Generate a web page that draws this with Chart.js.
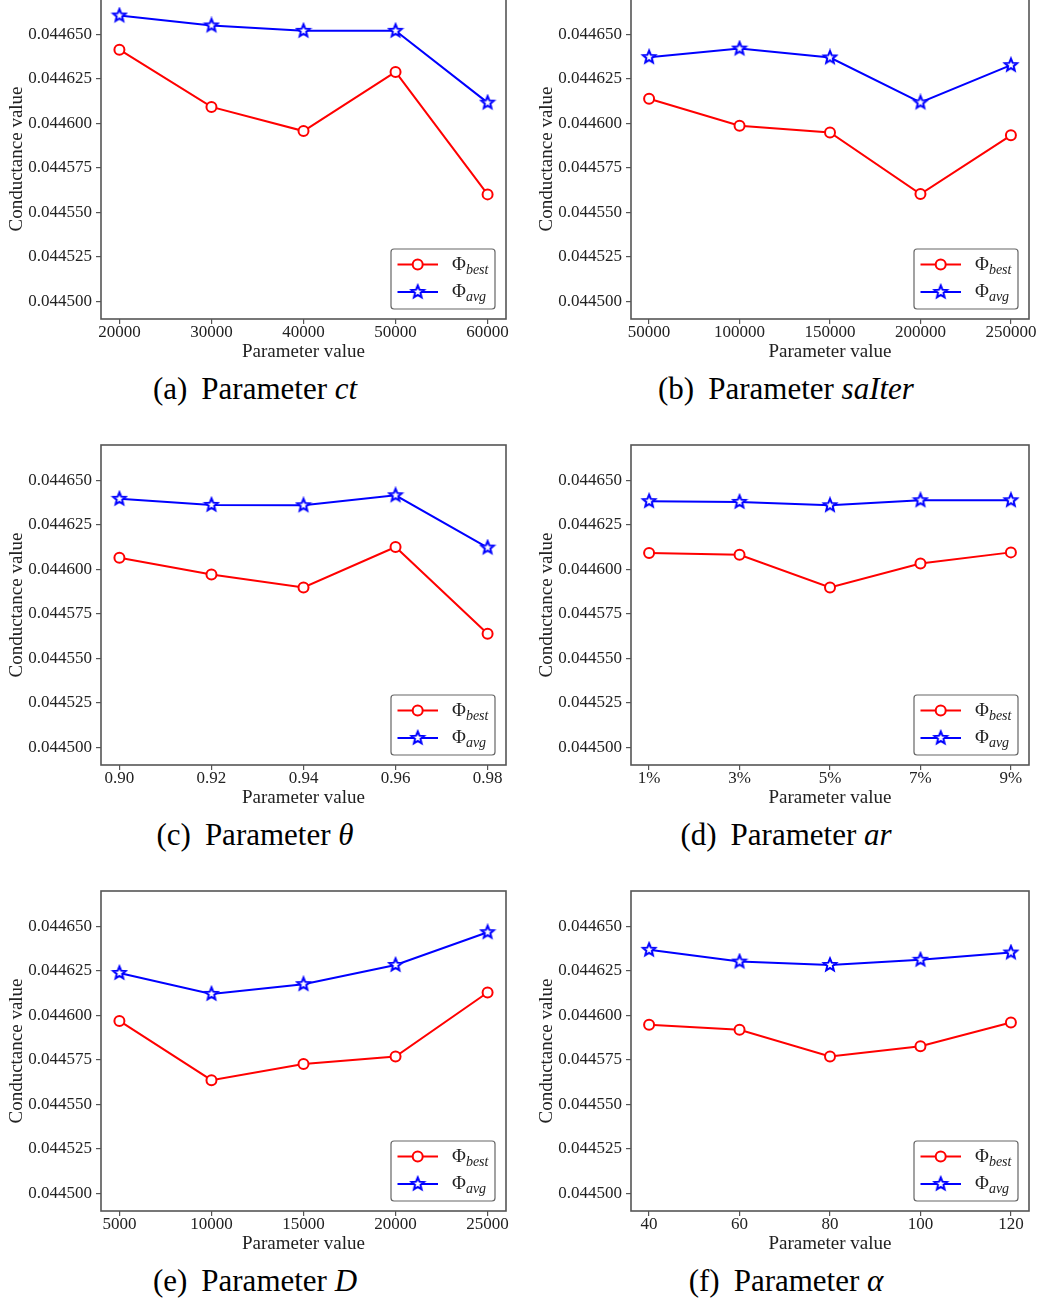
<!DOCTYPE html>
<html>
<head>
<meta charset="utf-8">
<script src="https://cdn.jsdelivr.net/npm/chart.js@4.4.1/dist/chart.umd.min.js"></script>
<style>
  body { margin: 0; background: #fff; width: 1050px; height: 1304px; position: relative; overflow: hidden; font-family: "Liberation Serif", serif; }
  canvas { position: absolute; }
  .cap { position: absolute; width: 400px; text-align: center; font-size: 31px; line-height: 30px; color: #000; white-space: nowrap; }
  .cap .lbl { margin-right: 14px; }
</style>
</head>
<body>
<script>
// shared y axis
const yTicks = [0.0445, 0.044525, 0.04455, 0.044575, 0.0446, 0.044625, 0.04465];
const yMin = 0.04449;
const yMax = 0.04467;

// (a) ct
const ctValues = [20000, 30000, 40000, 50000, 60000];
const ctLabels = ['20000', '30000', '40000', '50000', '60000'];
const ctBest = [0.0446415, 0.0446093, 0.0445957, 0.0446290, 0.0445601];
const ctAvg = [0.0446607, 0.0446551, 0.0446521, 0.0446521, 0.0446117];

// (b) saIter
const saIterValues = [50000, 100000, 150000, 200000, 250000];
const saIterLabels = ['50000', '100000', '150000', '200000', '250000'];
const saIterBest = [0.0446139, 0.0445987, 0.0445949, 0.0445603, 0.0445933];
const saIterAvg = [0.0446373, 0.0446421, 0.0446371, 0.0446118, 0.0446328];

// (c) theta
const thetaValues = [0.90, 0.92, 0.94, 0.96, 0.98];
const thetaLabels = ['0.90', '0.92', '0.94', '0.96', '0.98'];
const thetaBest = [0.0446066, 0.0445971, 0.0445899, 0.0446126, 0.0445638];
const thetaAvg = [0.0446397, 0.0446363, 0.0446361, 0.0446417, 0.0446123];

// (d) ar
const arValues = [1, 3, 5, 7, 9];
const arLabels = ['1%', '3%', '5%', '7%', '9%'];
const arBest = [0.0446093, 0.0446083, 0.0445899, 0.0446033, 0.0446096];
const arAvg = [0.0446384, 0.0446380, 0.0446361, 0.0446389, 0.0446389];

// (e) D
const dValues = [5000, 10000, 15000, 20000, 25000];
const dLabels = ['5000', '10000', '15000', '20000', '25000'];
const dBest = [0.0445969, 0.0445636, 0.0445727, 0.0445769, 0.0446129];
const dAvg = [0.0446239, 0.0446121, 0.0446176, 0.0446284, 0.0446468];

// (f) alpha
const alphaValues = [40, 60, 80, 100, 120];
const alphaLabels = ['40', '60', '80', '100', '120'];
const alphaBest = [0.0445947, 0.0445919, 0.0445769, 0.0445827, 0.0445960];
const alphaAvg = [0.0446369, 0.0446303, 0.0446284, 0.0446313, 0.0446354];

const captions = [
    ['(a)', 'ct'], ['(b)', 'saIter'], ['(c)', 'θ'],
    ['(d)', 'ar'], ['(e)', 'D'], ['(f)', 'α'],
];

const panels = [
    { x: ctValues, labels: ctLabels, best: ctBest, avg: ctAvg },
    { x: saIterValues, labels: saIterLabels, best: saIterBest, avg: saIterAvg },
    { x: thetaValues, labels: thetaLabels, best: thetaBest, avg: thetaAvg },
    { x: arValues, labels: arLabels, best: arBest, avg: arAvg },
    { x: dValues, labels: dLabels, best: dBest, avg: dAvg },
    { x: alphaValues, labels: alphaLabels, best: alphaBest, avg: alphaAvg },
];

Chart.defaults.font.family = '"Liberation Serif", serif';
Chart.defaults.color = '#222';

const FRAME = '#555';
const RED = '#ff0000';
const BLUE = '#0000ff';

// hollow five point star marker
function makeStar() {
    const c = document.createElement('canvas');
    c.width = 18;
    c.height = 18;
    const g = c.getContext('2d');
    g.beginPath();
    for (let i = 0; i < 10; i++) {
        const r = i % 2 === 0 ? 6.5 : 2.9;
        const a = -Math.PI / 2 + i * Math.PI / 5;
        const px = 9 + r * Math.cos(a);
        const py = 9 + r * Math.sin(a);
        if (i === 0) g.moveTo(px, py); else g.lineTo(px, py);
    }
    g.closePath();
    g.fillStyle = '#fff';
    g.fill();
    g.lineWidth = 2;
    g.lineJoin = 'miter';
    g.strokeStyle = BLUE;
    g.stroke();
    return c;
}
const starImg = makeStar();

const framePlugin = {
    id: 'frame',
    afterDraw(chart) {
        const { ctx, chartArea: a } = chart;
        ctx.save();
        ctx.strokeStyle = FRAME;
        ctx.lineWidth = 1.6;
        ctx.strokeRect(a.left, a.top, a.right - a.left, a.bottom - a.top);
        ctx.restore();
    }
};

const legendPlugin = {
    id: 'phiLegend',
    afterDraw(chart) {
        const { ctx, chartArea: a } = chart;
        const w = 104, h = 60;
        const x0 = a.right - 11 - w;
        const y0 = a.bottom - 10 - h;
        ctx.save();
        ctx.beginPath();
        ctx.roundRect(x0, y0, w, h, 3);
        ctx.fillStyle = '#fff';
        ctx.fill();
        ctx.lineWidth = 1.2;
        ctx.strokeStyle = '#666';
        ctx.stroke();

        const rows = [
            { color: RED, sub: 'best', y: y0 + 15.5 },
            { color: BLUE, sub: 'avg', y: y0 + 43 },
        ];
        rows.forEach((r, i) => {
            ctx.beginPath();
            ctx.moveTo(x0 + 6.5, r.y);
            ctx.lineTo(x0 + 47, r.y);
            ctx.lineWidth = 2;
            ctx.strokeStyle = r.color;
            ctx.stroke();
            if (i === 0) {
                ctx.beginPath();
                ctx.arc(x0 + 26.7, r.y, 5, 0, Math.PI * 2);
                ctx.fillStyle = '#fff';
                ctx.fill();
                ctx.stroke();
            } else {
                ctx.drawImage(starImg, x0 + 26.7 - 9, r.y - 9);
            }
            ctx.fillStyle = '#222';
            ctx.textBaseline = 'alphabetic';
            ctx.font = '19px "Liberation Serif", serif';
            ctx.fillText('Φ', x0 + 61, r.y + 5);
            const pw = ctx.measureText('Φ').width;
            ctx.font = 'italic 14px "Liberation Serif", serif';
            ctx.fillText(r.sub, x0 + 61 + pw, r.y + 9);
        });
        ctx.restore();
    }
};

const plotTops = [-1, 445, 891];
const plotH = 320;
const padTop = 10;
const xAxisH = 48;

panels.forEach((p, k) => {
    const row = Math.floor(k / 2);
    const col = k % 2;
    const left = col === 0 ? 0 : 520;
    const width = col === 0 ? 520 : 530;
    const height = padTop + plotH + xAxisH;

    const canvas = document.createElement('canvas');
    canvas.width = width;
    canvas.height = height;
    canvas.style.left = left + 'px';
    canvas.style.top = (plotTops[row] - padTop) + 'px';
    document.body.appendChild(canvas);

    const span = p.x[p.x.length - 1] - p.x[0];

    new Chart(canvas, {
        type: 'line',
        data: {
            datasets: [
                {
                    label: 'best',
                    data: p.x.map((x, i) => ({ x: x, y: p.best[i] })),
                    borderColor: RED,
                    borderWidth: 2,
                    pointStyle: 'circle',
                    pointRadius: 5,
                    pointBorderWidth: 2,
                    pointBorderColor: RED,
                    pointBackgroundColor: '#fff',
                    tension: 0,
                },
                {
                    label: 'avg',
                    data: p.x.map((x, i) => ({ x: x, y: p.avg[i] })),
                    borderColor: BLUE,
                    borderWidth: 2,
                    pointStyle: starImg,
                    tension: 0,
                },
            ],
        },
        options: {
            responsive: false,
            animation: false,
            events: [],
            layout: { padding: { left: col === 0 ? 0 : 10, right: col === 0 ? 14 : 21, top: padTop, bottom: 0 } },
            plugins: { legend: { display: false }, tooltip: { enabled: false } },
            scales: {
                x: {
                    type: 'linear',
                    min: p.x[0] - span * 0.05,
                    max: p.x[p.x.length - 1] + span * 0.05,
                    afterBuildTicks: s => { s.ticks = p.x.map(v => ({ value: v })); },
                    afterFit: s => { s.height = xAxisH; s.paddingLeft = 0; s.paddingRight = 0; },
                    ticks: {
                        autoSkip: false,
                        maxRotation: 0,
                        padding: -2,
                        font: { size: 17 },
                        callback: (v, i) => p.labels[i],
                    },
                    grid: { drawOnChartArea: false, tickLength: 5, color: FRAME, lineWidth: 1.2 },
                    border: { display: false },
                    title: { display: true, text: 'Parameter value', font: { size: 19 }, padding: { top: 0, bottom: 4 } },
                },
                y: {
                    type: 'linear',
                    min: yMin,
                    max: yMax,
                    afterBuildTicks: s => { s.ticks = yTicks.map(v => ({ value: v })); },
                    afterFit: s => { s.width = 101; s.paddingTop = 0; s.paddingBottom = 0; },
                    ticks: {
                        autoSkip: false,
                        padding: 4,
                        font: { size: 17 },
                        callback: v => v.toFixed(6),
                    },
                    grid: { drawOnChartArea: false, tickLength: 5, color: FRAME, lineWidth: 1.2 },
                    border: { display: false },
                    title: { display: true, text: 'Conductance value', font: { size: 19 }, padding: { top: 6, bottom: 0 } },
                },
            },
        },
        plugins: [framePlugin, legendPlugin],
    });

    const cap = document.createElement('div');
    cap.className = 'cap';
    const cx = col === 0 ? 255 : 786;
    cap.style.left = (cx - 200) + 'px';
    cap.style.top = (389 + 446 * row - 15) + 'px';
    const lbl = document.createElement('span');
    lbl.className = 'lbl';
    lbl.textContent = captions[k][0];
    const it = document.createElement('i');
    it.textContent = captions[k][1];
    cap.appendChild(lbl);
    cap.appendChild(document.createTextNode('Parameter '));
    cap.appendChild(it);
    document.body.appendChild(cap);
});
</script>
</body>
</html>
